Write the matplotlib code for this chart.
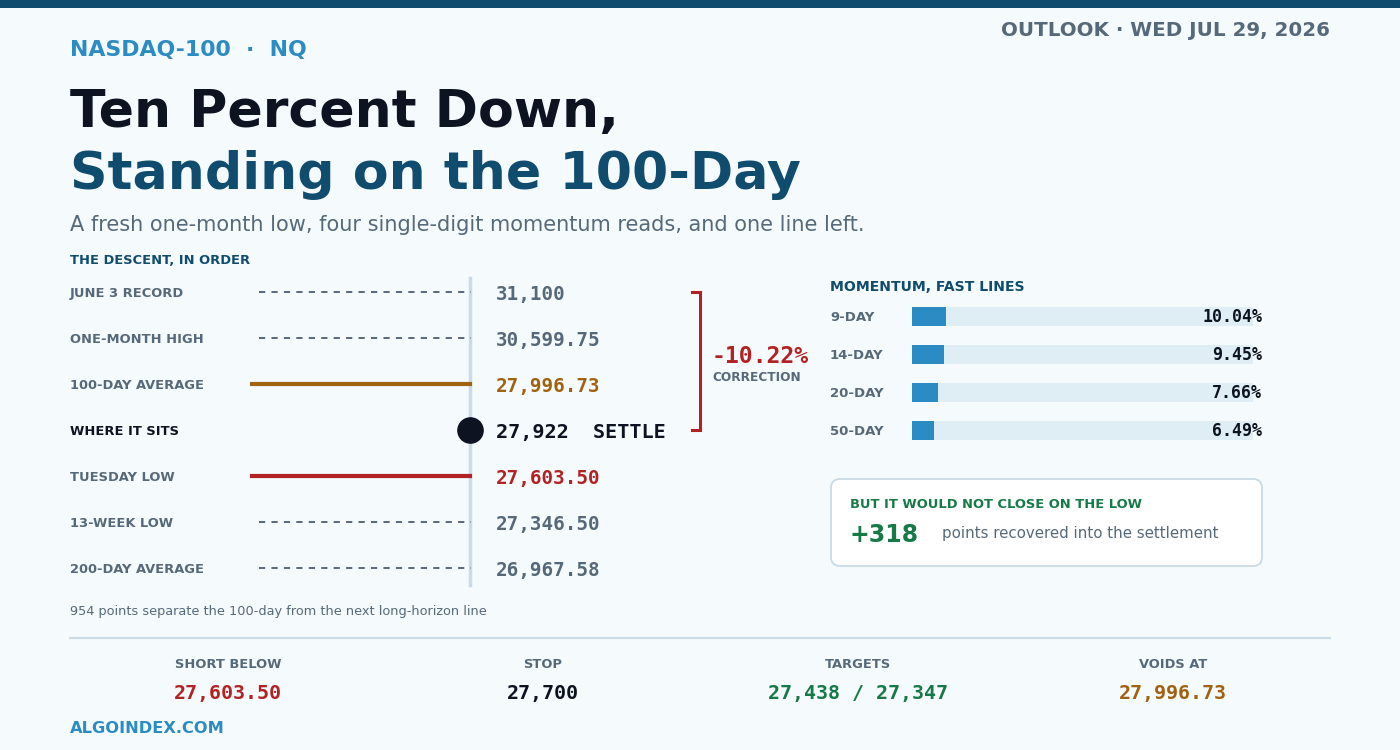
import matplotlib.pyplot as plt
from matplotlib.patches import FancyBboxPatch, Rectangle

# colours
BG = '#f5fafd'
NAVY = '#0f4c6e'
INK = '#0d1321'
SLATE = '#56697a'
BLUE = '#2b8cc4'
RED = '#b22222'
ORANGE = '#a0620f'
GREEN = '#157a45'
RULE = '#c8dbe6'
TRACK = '#dfeef5'

# data
level_labels = ['JUNE 3 RECORD', 'ONE-MONTH HIGH', '100-DAY AVERAGE', 'WHERE IT SITS',
                'TUESDAY LOW', '13-WEEK LOW', '200-DAY AVERAGE']
level_values = ['31,100', '30,599.75', '27,996.73', '27,922', '27,603.50', '27,346.50', '26,967.58']
level_kind = ['dash', 'dash', 'ma', 'settle', 'low', 'dash', 'dash']
correction = '-10.22%'

mom_labels = ['9-DAY', '14-DAY', '20-DAY', '50-DAY']
mom_values = [10.04, 9.45, 7.66, 6.49]

recovered = '+318'

footer_labels = ['SHORT BELOW', 'STOP', 'TARGETS', 'VOIDS AT']
footer_values = ['27,603.50', '27,700', '27,438 / 27,347', '27,996.73']
footer_colors = [RED, INK, GREEN, ORANGE]

MONO = 'DejaVu Sans Mono'


def txt(ax, x, y, s, size, color, weight='normal', ha='left', family='DejaVu Sans'):
    # y is the centre of the capital letters, converted to a baseline
    base = y + 0.365 * size * 100 / 72
    ax.text(x, base, s, fontsize=size, color=color, fontweight=weight, ha=ha,
            va='baseline', family=family)


fig = plt.figure(figsize=(14, 7.5), dpi=100, facecolor=BG)
ax = fig.add_axes([0, 0, 1, 1])
ax.set_xlim(0, 1400)
ax.set_ylim(750, 0)
ax.axis('off')
ax.set_zorder(2)

# top band
ax.add_patch(Rectangle((0, 0), 1400, 8, color=NAVY, lw=0))

txt(ax, 70, 48, 'NASDAQ-100  ·  NQ', 15.8, BLUE, 'bold')
txt(ax, 1330, 29, 'OUTLOOK · WED JUL 29, 2026', 14.3, SLATE, 'bold', ha='right')
txt(ax, 70, 108, 'Ten Percent Down,', 37.5, INK, 'bold')
txt(ax, 70, 170, 'Standing on the 100-Day', 37.5, NAVY, 'bold')
txt(ax, 70, 223, 'A fresh one-month low, four single-digit momentum reads, and one line left.', 15, SLATE)

# the descent
txt(ax, 70, 259, 'THE DESCENT, IN ORDER', 9.4, NAVY, 'bold')
axis_x = 470
ax.plot([axis_x, axis_x], [278, 585], color=RULE, lw=2.5, zorder=1)
for i, (lab, val, kind) in enumerate(zip(level_labels, level_values, level_kind)):
    y = 292 + 46 * i
    if kind == 'settle':
        txt(ax, 70, y, lab, 9.4, INK, 'bold')
        ax.scatter([axis_x], [y], s=330, color=INK, zorder=3)
        txt(ax, 496, y + 1, val + '  SETTLE', 14.5, INK, 'bold', family=MONO)
        continue
    if kind == 'dash':
        col = SLATE
        ax.plot([259, axis_x + 1], [y, y], color=SLATE, lw=1.4, ls=(0, (3.2, 3.2)), zorder=2)
    else:
        col = ORANGE if kind == 'ma' else RED
        ax.plot([252, axis_x], [y, y], color=col, lw=3, zorder=2)
    txt(ax, 70, y, lab, 9.4, SLATE, 'bold')
    txt(ax, 496, y + 1, val, 13.9, col, 'bold', family=MONO)

# correction bracket
ax.plot([692, 700, 700, 692], [292, 292, 430, 430], color=RED, lw=2.2, solid_joinstyle='miter')
txt(ax, 712, 355, correction, 16.7, RED, 'bold', family=MONO)
txt(ax, 712, 377, 'CORRECTION', 8.7, SLATE, 'bold')

# momentum
txt(ax, 830, 286, 'MOMENTUM, FAST LINES', 10.1, NAVY, 'bold')
bx = fig.add_axes([912 / 1400, 1 - 449 / 750, 341 / 1400, 152 / 750])
bx.set_zorder(1)
bx.set_xlim(0, 100)
bx.set_ylim(3.5, -0.5)
bx.axis('off')
rows = list(range(len(mom_values)))
bx.barh(rows, [100] * len(rows), height=0.5, color=TRACK, lw=0)
bx.barh(rows, mom_values, height=0.5, color=BLUE, lw=0)
for i, (lab, v) in enumerate(zip(mom_labels, mom_values)):
    y = 316 + 38 * i
    txt(ax, 830, y, lab, 9.5, SLATE, 'bold')
    txt(ax, 1262, y, f'{v:.2f}%', 12, INK, 'bold', ha='right', family=MONO)

# recovery box
ax.add_patch(FancyBboxPatch((831, 479), 431, 87, boxstyle='round,pad=0,rounding_size=9',
                            facecolor='white', edgecolor=RULE, lw=1.3))
txt(ax, 850, 503, 'BUT IT WOULD NOT CLOSE ON THE LOW', 9.4, GREEN, 'bold')
txt(ax, 849, 533, recovered, 17, GREEN, 'bold')
txt(ax, 942, 533, 'points recovered into the settlement', 10.8, SLATE)

txt(ax, 70, 610, '954 points separate the 100-day from the next long-horizon line', 9.3, SLATE)

# footer
ax.plot([70, 1330], [638, 638], color=RULE, lw=1.5)
for i, (lab, val, col) in enumerate(zip(footer_labels, footer_values, footer_colors)):
    cx = 228 + 315 * i
    txt(ax, cx, 663, lab, 9.4, SLATE, 'bold', ha='center')
    txt(ax, cx, 692, val, 14.4, col, 'bold', family=MONO, ha='center')

txt(ax, 70, 727, 'ALGOINDEX.COM', 11.7, BLUE, 'bold')

fig.savefig('out.png', dpi=100, facecolor=BG)
